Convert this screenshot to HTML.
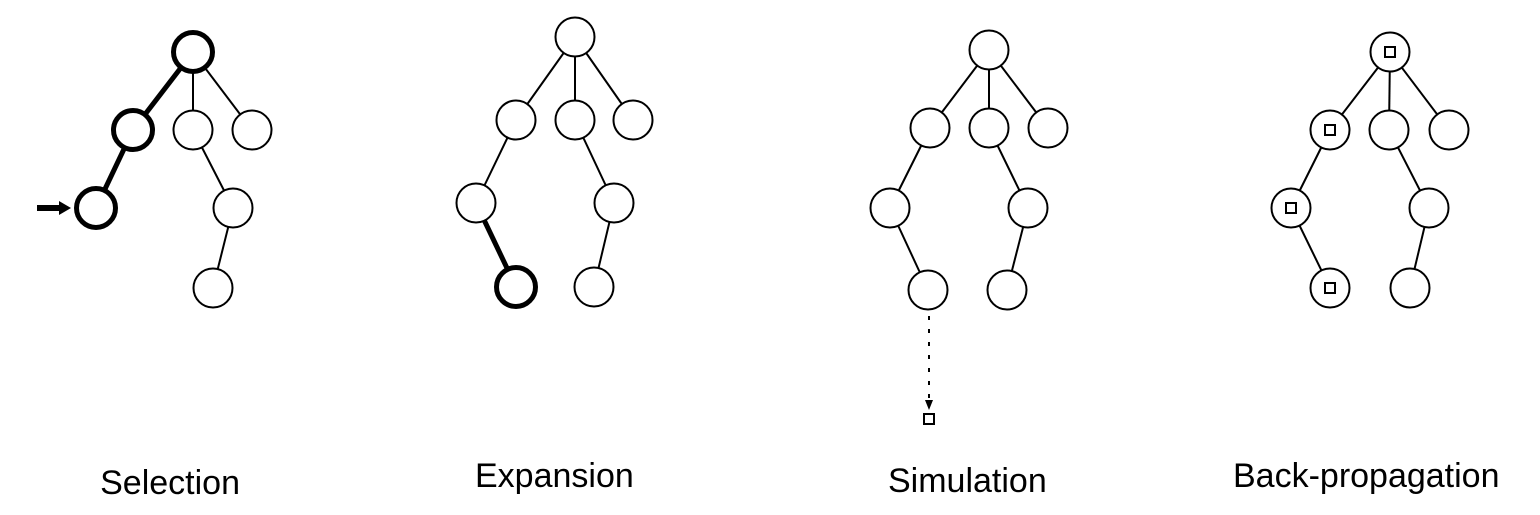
<!DOCTYPE html>
<html><head><style>body{margin:0;background:#fff}svg{display:block}</style></head><body>
<svg width="1540" height="515" viewBox="0 0 1540 515" xmlns="http://www.w3.org/2000/svg">
<g stroke="#000" fill="#fff" stroke-width="2">
<!-- Selection -->
<line x1="193" y1="52" x2="133" y2="130" stroke-width="5"/>
<line x1="193" y1="52" x2="193" y2="130"/>
<line x1="193" y1="52" x2="252" y2="130"/>
<line x1="133" y1="130" x2="96" y2="208" stroke-width="5"/>
<line x1="193" y1="130" x2="233" y2="208"/>
<line x1="233" y1="208" x2="213" y2="288"/>
<circle cx="193" cy="52" r="19.5" stroke-width="5"/>
<circle cx="133" cy="130" r="19.5" stroke-width="5"/>
<circle cx="193" cy="130" r="19.5"/>
<circle cx="252" cy="130" r="19.5"/>
<circle cx="96" cy="208" r="19.5" stroke-width="5"/>
<circle cx="233" cy="208" r="19.5"/>
<circle cx="213" cy="288" r="19.5"/>
<line x1="37" y1="208" x2="62" y2="208" stroke-width="6"/>
<polygon points="59,201 71,208 59,215" fill="#000" stroke="none"/>
<!-- Expansion -->
<line x1="575" y1="37" x2="516" y2="120"/>
<line x1="575" y1="37" x2="575" y2="120"/>
<line x1="575" y1="37" x2="633" y2="120"/>
<line x1="516" y1="120" x2="476" y2="203"/>
<line x1="476" y1="203" x2="516" y2="287" stroke-width="5"/>
<line x1="575" y1="120" x2="614" y2="203"/>
<line x1="614" y1="203" x2="594" y2="287"/>
<circle cx="575" cy="37" r="19.5"/>
<circle cx="516" cy="120" r="19.5"/>
<circle cx="575" cy="120" r="19.5"/>
<circle cx="633" cy="120" r="19.5"/>
<circle cx="476" cy="203" r="19.5"/>
<circle cx="614" cy="203" r="19.5"/>
<circle cx="516" cy="287" r="19.5" stroke-width="5"/>
<circle cx="594" cy="287" r="19.5"/>
<!-- Simulation -->
<line x1="989" y1="50" x2="930" y2="128"/>
<line x1="989" y1="50" x2="989" y2="128"/>
<line x1="989" y1="50" x2="1048" y2="128"/>
<line x1="930" y1="128" x2="890" y2="208"/>
<line x1="890" y1="208" x2="928" y2="290"/>
<line x1="989" y1="128" x2="1028" y2="208"/>
<line x1="1028" y1="208" x2="1007" y2="290"/>
<circle cx="989" cy="50" r="19.5"/>
<circle cx="930" cy="128" r="19.5"/>
<circle cx="989" cy="128" r="19.5"/>
<circle cx="1048" cy="128" r="19.5"/>
<circle cx="890" cy="208" r="19.5"/>
<circle cx="1028" cy="208" r="19.5"/>
<circle cx="928" cy="290" r="19.5"/>
<circle cx="1007" cy="290" r="19.5"/>
<line x1="929" y1="316" x2="929" y2="400" stroke-dasharray="4,9"/>
<polygon points="925,400 933,400 929,410" fill="#000" stroke="none"/>
<rect x="924" y="414" width="10" height="10"/>
<!-- Back-propagation -->
<line x1="1390" y1="52" x2="1330" y2="130"/>
<line x1="1390" y1="52" x2="1389" y2="130"/>
<line x1="1390" y1="52" x2="1449" y2="130"/>
<line x1="1330" y1="130" x2="1291" y2="208"/>
<line x1="1291" y1="208" x2="1330" y2="288"/>
<line x1="1389" y1="130" x2="1429" y2="208"/>
<line x1="1429" y1="208" x2="1410" y2="288"/>
<circle cx="1390" cy="52" r="19.5"/>
<circle cx="1330" cy="130" r="19.5"/>
<circle cx="1389" cy="130" r="19.5"/>
<circle cx="1449" cy="130" r="19.5"/>
<circle cx="1291" cy="208" r="19.5"/>
<circle cx="1429" cy="208" r="19.5"/>
<circle cx="1330" cy="288" r="19.5"/>
<circle cx="1410" cy="288" r="19.5"/>
<rect x="1385" y="47" width="10" height="10"/>
<rect x="1325" y="125" width="10" height="10"/>
<rect x="1286" y="203" width="10" height="10"/>
<rect x="1325" y="283" width="10" height="10"/>
</g>
<g font-family="Liberation Sans, sans-serif" font-size="34" fill="#000">
<text x="240" y="494" text-anchor="end">Selection</text>
<text x="475" y="487">Expansion</text>
<text x="888" y="492">Simulation</text>
<text x="1233" y="487">Back-propagation</text>
</g>
</svg>
</body></html>
